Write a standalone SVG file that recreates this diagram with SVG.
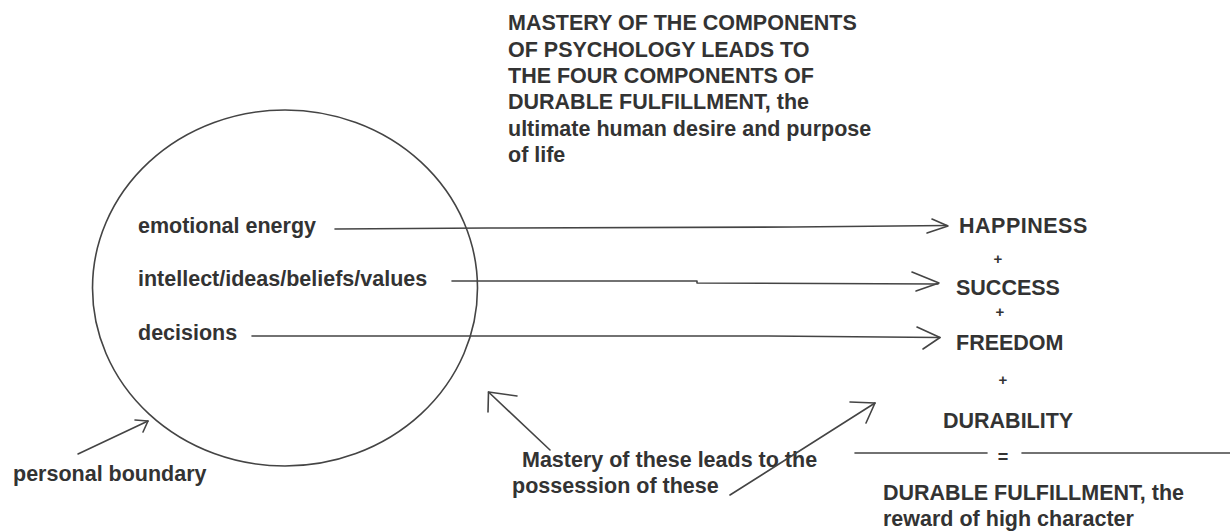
<svg xmlns="http://www.w3.org/2000/svg" width="1230" height="531" viewBox="0 0 1230 531">
<style>
  text { font-family: "Liberation Sans", Arial, sans-serif; font-weight: bold; fill: #333; font-size: 21.5px; }
  .sm { font-size: 15px; }
  .eq { font-size: 18px; }
  .ln { fill: none; stroke: #444; stroke-width: 1.6; stroke-linecap: round; stroke-linejoin: round; }
  .circ { fill: none; stroke: #444; stroke-width: 1.6; }
</style>
<rect width="1230" height="531" fill="#fff"/>

<g id="title">
  <text x="508" y="30">MASTERY OF THE COMPONENTS</text>
  <text x="508" y="56.5">OF PSYCHOLOGY LEADS TO</text>
  <text x="508" y="83">THE FOUR COMPONENTS OF</text>
  <text x="508" y="109">DURABLE FULFILLMENT, the</text>
  <text x="508" y="135.5">ultimate human desire and purpose</text>
  <text x="508" y="162">of life</text>
</g>

<g id="boundary">
  <ellipse class="circ" cx="285" cy="288" rx="192.5" ry="178"/>
</g>

<g id="emotional-energy"><text x="138" y="233">emotional energy</text></g>
<g id="intellect"><text x="138" y="286">intellect/ideas/beliefs/values</text></g>
<g id="decisions"><text x="138" y="340">decisions</text></g>

<g id="happiness"><text x="959" y="233" letter-spacing="0.5">HAPPINESS</text></g>
<g id="plus1"><text class="sm" x="998" y="263.5" text-anchor="middle">+</text></g>
<g id="success"><text x="956" y="295">SUCCESS</text></g>
<g id="plus2"><text class="sm" x="1000" y="316.5" text-anchor="middle">+</text></g>
<g id="freedom"><text x="956" y="350">FREEDOM</text></g>
<g id="plus3"><text class="sm" x="1003" y="384.5" text-anchor="middle">+</text></g>
<g id="durability"><text x="943" y="428">DURABILITY</text></g>
<g id="equals"><text class="eq" x="1003" y="463" text-anchor="middle">=</text></g>
<g id="fulfillment">
  <text x="883" y="500">DURABLE FULFILLMENT, the</text>
  <text x="883" y="526">reward of high character</text>
</g>

<g id="personal-boundary"><text x="13" y="481">personal boundary</text></g>
<g id="mastery-note">
  <text x="522" y="467">Mastery of these leads to the</text>
  <text x="512" y="493">possession of these</text>
</g>

<g id="connectors">
  <g id="arrow-happiness">
    <path class="ln" d="M335,229 L488,228 L793,227 L947,225.5"/>
    <path class="ln" d="M932,219 L948,226 L927,233"/>
  </g>
  <g id="arrow-success">
    <path class="ln" d="M452,281 L697,281 L697,283 L938,284"/>
    <path class="ln" d="M912,272 L939,283 L916,291"/>
  </g>
  <g id="arrow-freedom">
    <path class="ln" d="M252,336 L768,336 L940,337.5"/>
    <path class="ln" d="M917,327 L940,337.5 L923,349"/>
  </g>
  <g id="arrow-boundary">
    <path class="ln" d="M78,454 L148,421"/>
    <path class="ln" d="M135,420 L148,421 L143,432"/>
  </g>
  <g id="arrow-mastery">
    <path class="ln" d="M550,450 L488.5,392"/>
    <path class="ln" d="M517,396 L488.5,392 L488,412"/>
  </g>
  <g id="arrow-possession">
    <path class="ln" d="M730,495 L875,403"/>
    <path class="ln" d="M850,402 L875,403 L866,423"/>
  </g>
  <g id="equation-line">
    <path class="ln" d="M855,453 L987,453"/>
    <path class="ln" d="M1022,453 L1230,453"/>
  </g>
</g>
</svg>
